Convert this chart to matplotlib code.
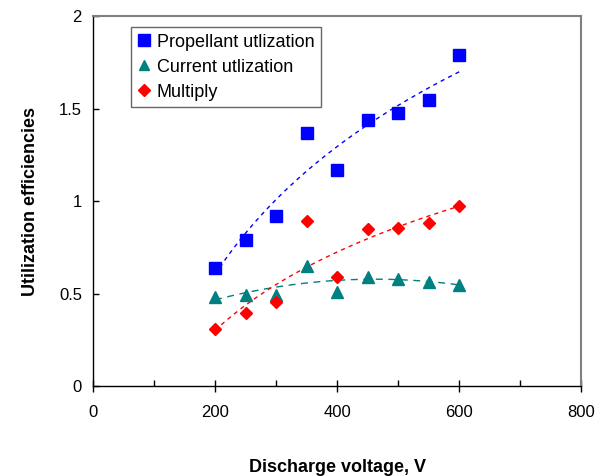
import numpy as np
import matplotlib
matplotlib.use("Agg")
import matplotlib.pyplot as plt
from matplotlib.ticker import MultipleLocator

plt.rcParams['font.family'] = ['Liberation Sans', 'DejaVu Sans']

voltage = [200, 250, 300, 350, 400, 450, 500, 550, 600]
propellant = [0.64, 0.79, 0.92, 1.37, 1.17, 1.44, 1.475, 1.545, 1.79]
current = [0.48, 0.49, 0.49, 0.65, 0.51, 0.59, 0.58, 0.565, 0.545]
multiply = [0.31, 0.395, 0.455, 0.895, 0.59, 0.85, 0.855, 0.88, 0.975]

v = np.array(voltage, dtype=float)
vf = np.linspace(200, 600, 200)

# log trendline, like the spreadsheet one
def log_fit(y):
    a, b = np.polyfit(np.log(v), y, 1)
    return a * np.log(vf) + b

fig = plt.figure(figsize=(6.08, 4.76), dpi=100)
ax = fig.add_axes([0.153, 0.189, 0.803, 0.777])

ax.plot(v, propellant, 's', color='#0000ff', ms=9, label='Propellant utlization', zorder=3)
ax.plot(v, current, '^', color='#008080', ms=8, label='Current utlization', zorder=3)
ax.plot(v, multiply, 'D', color='#ff0000', ms=6, label='Multiply', zorder=3)

ax.plot(vf, log_fit(propellant), '--', color='#0000ff', lw=1, dashes=(3, 3))
ax.plot(vf, np.polyval(np.polyfit(v, current, 2), vf), '--', color='#008080', lw=1, dashes=(5, 4))
ax.plot(vf, log_fit(multiply), '--', color='#ff0000', lw=1, dashes=(3, 3))

ax.set_xlim(0, 800)
ax.set_ylim(0, 2)
ax.xaxis.set_major_locator(MultipleLocator(200))
ax.xaxis.set_minor_locator(MultipleLocator(100))
ax.set_yticks([0, 0.5, 1, 1.5, 2])
ax.set_yticklabels(['0', '0.5', '1', '1.5', '2'])

ax.tick_params(axis='x', which='major', direction='inout', length=8, width=1, labelsize=12, pad=10)
ax.tick_params(axis='x', which='minor', direction='in', length=4, width=1)
ax.tick_params(axis='y', which='major', direction='in', length=4, width=1, labelsize=12, pad=8)

for s in ['top', 'right']:
    ax.spines[s].set_color('#808080')
    ax.spines[s].set_linewidth(1.5)
for s in ['left', 'bottom']:
    ax.spines[s].set_color('#000000')
    ax.spines[s].set_linewidth(1)

ax.set_xlabel('Discharge voltage, V', fontsize=13, fontweight='bold', labelpad=28)
ax.set_ylabel('Utilization efficiencies', fontsize=13, fontweight='bold', labelpad=14)

leg = ax.legend(loc='upper left', bbox_to_anchor=(0.07, 0.98), fontsize=13, frameon=True,
                fancybox=False, edgecolor='#404040', handlelength=0.8, handletextpad=0.3,
                borderpad=0.35, labelspacing=0.45, markerscale=0.95, borderaxespad=0.2)
leg.get_frame().set_linewidth(1)

fig.savefig('out.png', dpi=100)
